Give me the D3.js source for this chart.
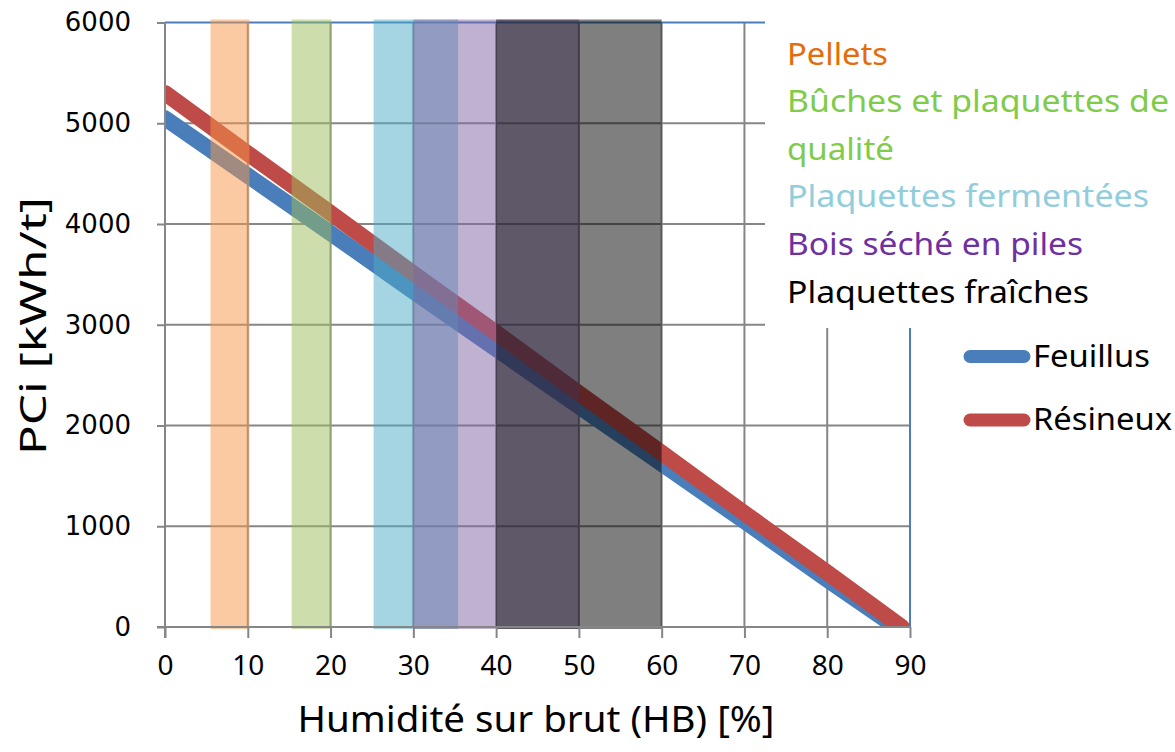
<!DOCTYPE html>
<html><head><meta charset="utf-8">
<script src="https://cdn.jsdelivr.net/npm/d3@7"></script>
<style>body{margin:0;background:#fff}svg{display:block}</style>
</head><body>
<svg id="c" width="1175" height="752"></svg>
<script>
// ---- data ----
const xTicks = [0,10,20,30,40,50,60,70,80,90];
const yTicks = [0,1000,2000,3000,4000,5000,6000];
const feuillusH = [0,10,20,30,40,50,60,70,80,88.3];
const feuillusPCI = [5050,4480,3910,3330,2760,2190,1620,1050,470,0];
const resineuxH = [0,10,20,30,40,50,60,70,80,89];
const resineuxPCI = [5300,4700,4110,3510,2920,2320,1730,1130,540,0];
const bandNames = ["Pellets","Bûches et plaquettes de qualité","Plaquettes fermentées","Bois séché en piles","Plaquettes fraîches"];
const bandStart = [5.5,15.3,25.2,30,40];
const bandEnd   = [10.2,20.1,35.4,50,60];
const bandColors = ["#F79646","#9BBB59","#4BACC6","#8064A2","#000000"];
const legendLines = ["Pellets","Bûches et plaquettes de","qualité","Plaquettes fermentées","Bois séché en piles","Plaquettes fraîches"];
const legendColors = ["#E46C0A","#7FCB4A","#7FCB4A","#92CDDC","#7030A0","#000000"];
const legendWidths = [101,382,107,362,296,302];
const seriesNames = ["Feuillus","Résineux"];
const seriesColors = ["#4A7EBB","#BE4B48"];

// ---- layout ----
const svg = d3.select("#c");
const x = d3.scaleLinear().domain([0,90]).range([165,910]);
const y = d3.scaleLinear().domain([0,6000]).range([627,22.5]);
const grid = "#868686";

// gridlines
svg.append("g").selectAll("line").data(yTicks.filter(d=>d>0 && d<6000)).join("line")
  .attr("x1",x(0)).attr("x2",x(90)).attr("y1",d=>y(d)).attr("y2",d=>y(d))
  .attr("stroke",grid).attr("stroke-width",2);
svg.append("g").selectAll("line").data(xTicks.filter(d=>d>0 && d<90)).join("line")
  .attr("x1",d=>x(d)).attr("x2",d=>x(d)).attr("y1",y(0)).attr("y2",y(6000))
  .attr("stroke",grid).attr("stroke-width",2);
// top blue line & right blue line
svg.append("line").attr("x1",x(0)).attr("x2",x(90)).attr("y1",y(6000)).attr("y2",y(6000))
  .attr("stroke","#4A7EBB").attr("stroke-width",2);
svg.append("line").attr("x1",x(90)).attr("x2",x(90)).attr("y1",y(6000)).attr("y2",y(0))
  .attr("stroke","#4A7EBB").attr("stroke-width",2);

// series lines clipped to plot area
svg.append("clipPath").attr("id","pc").append("rect")
  .attr("x",x(0)).attr("y",y(6000)).attr("width",x(90)-x(0)).attr("height",y(0)-y(6000));
const line = d3.line().x(d=>x(d[0])).y(d=>y(d[1]));
const series = [d3.zip(feuillusH,feuillusPCI), d3.zip(resineuxH,resineuxPCI)];
svg.append("g").attr("clip-path","url(#pc)").selectAll("path").data(series).join("path")
  .attr("d",line).attr("fill","none").attr("stroke",(d,i)=>seriesColors[i])
  .attr("stroke-width",16).attr("stroke-linecap","round");

// moisture bands
svg.append("g").selectAll("rect").data(bandNames).join("rect")
  .attr("x",(d,i)=>x(bandStart[i])).attr("width",(d,i)=>x(bandEnd[i])-x(bandStart[i]))
  .attr("y",y(6000)-3).attr("height",y(0)-y(6000)+5)
  .attr("fill",(d,i)=>bandColors[i]).attr("fill-opacity",0.5);

// axes
const xAxis = d3.axisBottom(x).tickValues(xTicks).tickSize(11).tickPadding(17);
const gx = svg.append("g").attr("transform",`translate(0,${y(0)})`).call(xAxis);
gx.select(".domain").attr("stroke",grid).attr("stroke-width",2).attr("d",`M${x(0)-8},0H${x(90)}`);
gx.selectAll(".tick line").attr("stroke",grid).attr("stroke-width",2);
gx.selectAll(".tick text").attr("font-family","Noto Sans").attr("font-size",28).attr("fill","#000");

const yAxis = d3.axisLeft(y).tickValues(yTicks).tickSize(8).tickPadding(26).tickFormat(d3.format("d"));
const gy = svg.append("g").attr("transform",`translate(${x(0)},0)`).call(yAxis);
gy.select(".domain").attr("stroke",grid).attr("stroke-width",2).attr("d",`M0,${y(6000)}V${y(0)+11}`);
gy.selectAll(".tick line").attr("stroke",grid).attr("stroke-width",2);
gy.selectAll(".tick text").attr("font-family","DejaVu Sans").attr("font-size",26).attr("fill","#000");

// axis titles
svg.append("text").attr("x",536).attr("y",732).attr("text-anchor","middle")
  .attr("font-family","Noto Sans").attr("font-size",36).attr("textLength",477).attr("lengthAdjust","spacingAndGlyphs")
  .text("Humidité sur brut (HB) [%]");
svg.append("text").attr("transform","translate(46,326) rotate(-90)").attr("text-anchor","middle")
  .attr("font-family","Noto Sans").attr("font-size",36).attr("textLength",258).attr("lengthAdjust","spacingAndGlyphs")
  .text("PCi [kWh/t]");

// legend box (white) with band names
svg.append("rect").attr("x",765).attr("y",18).attr("width",410).attr("height",310).attr("fill","#fff");
const lb = [65,112,160,207,255,303];
svg.append("g").selectAll("text").data(legendLines).join("text")
  .attr("x",787).attr("y",(d,i)=>lb[i]).attr("fill",(d,i)=>legendColors[i])
  .attr("font-family","Noto Sans").attr("font-size",30)
  .attr("textLength",(d,i)=>legendWidths[i]).attr("lengthAdjust","spacingAndGlyphs")
  .text(d=>d);

// series legend
const sy = [356.5,420];
const sw = [117,139];
const lg = svg.append("g");
lg.selectAll("line").data(seriesNames).join("line")
  .attr("x1",970).attr("x2",1024).attr("y1",(d,i)=>sy[i]).attr("y2",(d,i)=>sy[i])
  .attr("stroke",(d,i)=>seriesColors[i]).attr("stroke-width",13).attr("stroke-linecap","round");
lg.selectAll("text").data(seriesNames).join("text")
  .attr("x",1033).attr("y",(d,i)=>sy[i]+10).attr("fill","#000")
  .attr("font-family","Noto Sans").attr("font-size",30)
  .attr("textLength",(d,i)=>sw[i]).attr("lengthAdjust","spacingAndGlyphs")
  .text(d=>d);
</script>
</body></html>
